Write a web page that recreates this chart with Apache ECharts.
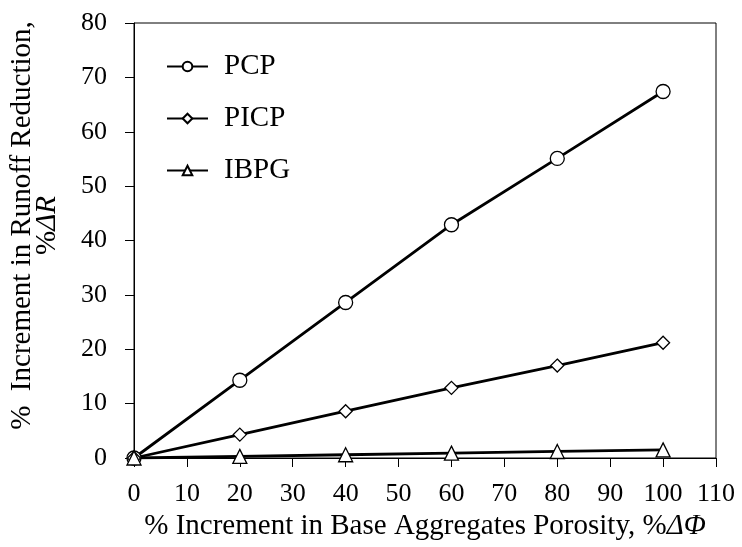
<!DOCTYPE html>
<html>
<head>
<meta charset="utf-8">
<script src="https://cdn.jsdelivr.net/npm/echarts@6/dist/echarts.min.js"></script>
<style>
  html, body { margin: 0; padding: 0; background: #fff; }
  #main { width: 742px; height: 547px; }
</style>
</head>
<body>
<div id="main"></div>
<script>
// x values: % increment in base aggregates porosity
var porosity = [0, 20, 40, 60, 80, 100];
// y values: % increment in runoff reduction
var pcp = [0, 14.3, 28.6, 42.9, 55.1, 67.4];
var picp = [0, 4.3, 8.6, 12.9, 17.0, 21.2];
var ibpg = [0, 0.3, 0.6, 0.9, 1.2, 1.5];

var serif = 'Liberation Serif';

function pairs(xs, ys) {
    var out = [];
    for (var i = 0; i < xs.length; i++) {
        out.push([xs[i], ys[i]]);
    }
    return out;
}

function makeSeries(name, ys, symbol, size) {
    return {
        name: name,
        type: 'line',
        data: pairs(porosity, ys),
        symbol: symbol,
        symbolSize: size,
        showAllSymbol: true,
        lineStyle: { color: '#000', width: 2.8 },
        itemStyle: { color: '#fff', borderColor: '#000', borderWidth: 1.3 },
        emphasis: { disabled: true },
        z: 3
    };
}

var myChart = echarts.init(document.getElementById('main'));

var option = {
    backgroundColor: '#fff',
    animation: false,
    grid: {
        left: 132,
        right: 26,
        top: 23,
        bottom: 89,
        show: true,
        borderColor: '#000',
        borderWidth: 1
    },
    legend: {
        orient: 'vertical',
        left: 161,
        top: 47,
        itemWidth: 41,
        itemHeight: 12,
        itemGap: 23,
        textStyle: { fontFamily: serif, fontSize: 29, color: '#000', padding: [0, 0, 0, 11] },
        data: ['PCP', 'PICP', 'IBPG']
    },
    xAxis: {
        type: 'value',
        min: 0,
        max: 110,
        interval: 10,
        name: '% Increment in Base Aggregates Porosity, %{i|ΔΦ}',
        nameLocation: 'middle',
        nameGap: 51,
        nameTextStyle: {
            fontFamily: serif, fontSize: 29, color: '#000',
            rich: { i: { fontFamily: serif, fontSize: 29, fontStyle: 'italic', color: '#000' } }
        },
        axisLine: { lineStyle: { color: '#000', width: 1 } },
        axisTick: { show: true, inside: false, length: 9, lineStyle: { color: '#000' } },
        axisLabel: { fontFamily: serif, fontSize: 26, color: '#000', margin: 23 },
        splitLine: { show: false }
    },
    yAxis: {
        type: 'value',
        min: 0,
        max: 80,
        interval: 10,
        name: '%  Increment in Runoff Reduction,\n%{i|ΔR}',
        nameLocation: 'middle',
        nameGap: 74,
        nameTextStyle: {
            fontFamily: serif, fontSize: 29, color: '#000', lineHeight: 25,
            padding: [0, 0, 0, 30],
            rich: { i: { fontFamily: serif, fontSize: 29, fontStyle: 'italic', color: '#000', lineHeight: 25 } }
        },
        axisLine: { show: true, lineStyle: { color: '#000', width: 1 } },
        axisTick: { show: true, inside: false, length: 9, lineStyle: { color: '#000' } },
        axisLabel: { fontFamily: serif, fontSize: 26, color: '#000', margin: 27 },
        splitLine: { show: false }
    },
    series: [
        makeSeries('PCP', pcp, 'circle', 14),
        makeSeries('PICP', picp, 'diamond', 13),
        makeSeries('IBPG', ibpg, 'triangle', 14)
    ]
};
myChart.setOption(option);
</script>
</body>
</html>
